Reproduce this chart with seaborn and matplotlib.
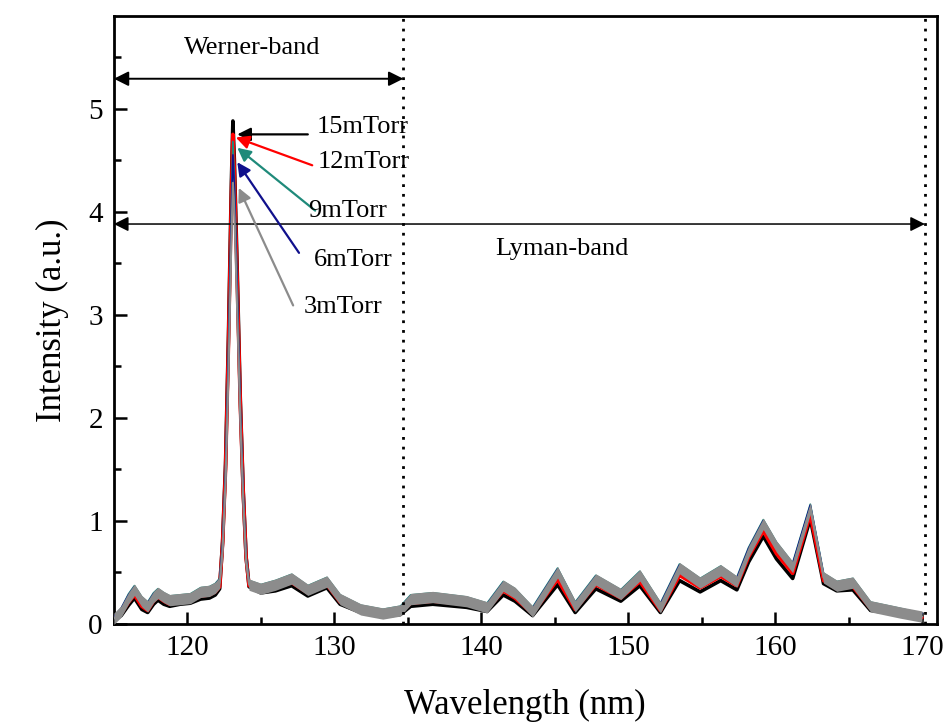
import matplotlib
matplotlib.use("Agg")
import matplotlib.pyplot as plt
import seaborn as sns
import pandas as pd
from matplotlib.ticker import MultipleLocator

# wavelength grid (nm)
wavelength = [115.0, 115.5, 116.0, 116.4, 116.9, 117.3, 117.7, 118.0, 118.4, 118.8,
              119.5, 120.2, 120.9, 121.5, 121.9, 122.2, 122.4, 122.6, 122.8, 123.0,
              123.1, 123.2, 123.4, 123.6, 123.8, 124.0, 124.2, 125.0, 126.0, 127.1,
              128.2, 129.5, 130.4, 131.8, 133.3, 134.5, 135.2, 136.7, 139.0, 140.4,
              141.5, 142.3, 143.5, 145.2, 146.4, 147.8, 149.5, 150.8, 152.2, 153.5,
              154.9, 156.3, 157.4, 158.2, 159.2, 160.1, 161.2, 162.4, 163.3, 164.2,
              165.3, 166.5, 168.5, 170.0]

i_15 = [0.03, 0.08, 0.18, 0.25, 0.14, 0.11, 0.19, 0.23, 0.19, 0.17,
        0.19, 0.20, 0.24, 0.25, 0.28, 0.34, 0.80, 1.55, 2.80, 4.30,
        4.88, 4.50, 3.40, 2.20, 1.30, 0.65, 0.36, 0.30, 0.32, 0.37,
        0.27, 0.35, 0.19, 0.11, 0.07, 0.09, 0.17, 0.19, 0.16, 0.12,
        0.28, 0.22, 0.08, 0.38, 0.11, 0.34, 0.22, 0.37, 0.11, 0.42,
        0.31, 0.42, 0.33, 0.60, 0.85, 0.63, 0.44, 1.02, 0.39, 0.32,
        0.33, 0.13, 0.09, 0.05]

i_12 = [0.04, 0.10, 0.21, 0.28, 0.17, 0.13, 0.22, 0.26, 0.22, 0.19,
        0.21, 0.22, 0.27, 0.28, 0.31, 0.36, 0.78, 1.50, 2.72, 4.18,
        4.75, 4.38, 3.30, 2.15, 1.28, 0.64, 0.37, 0.32, 0.35, 0.40,
        0.30, 0.38, 0.21, 0.12, 0.08, 0.11, 0.20, 0.22, 0.19, 0.14,
        0.32, 0.25, 0.10, 0.43, 0.14, 0.38, 0.25, 0.41, 0.13, 0.47,
        0.35, 0.46, 0.37, 0.65, 0.90, 0.68, 0.49, 1.06, 0.42, 0.34,
        0.36, 0.15, 0.10, 0.06]

i_9 = [0.07, 0.15, 0.29, 0.37, 0.26, 0.21, 0.30, 0.34, 0.30, 0.27,
       0.28, 0.29, 0.35, 0.36, 0.39, 0.44, 0.78, 1.48, 2.66, 4.10,
       4.68, 4.32, 3.25, 2.12, 1.27, 0.64, 0.42, 0.38, 0.42, 0.48,
       0.37, 0.45, 0.28, 0.18, 0.14, 0.17, 0.28, 0.30, 0.26, 0.20,
       0.41, 0.34, 0.16, 0.54, 0.21, 0.47, 0.33, 0.51, 0.20, 0.58,
       0.44, 0.56, 0.45, 0.74, 1.01, 0.79, 0.59, 1.16, 0.49, 0.41,
       0.44, 0.21, 0.15, 0.10]

i_6 = [0.07, 0.15, 0.28, 0.36, 0.25, 0.20, 0.29, 0.33, 0.29, 0.26,
       0.27, 0.28, 0.34, 0.35, 0.38, 0.43, 0.76, 1.44, 2.58, 3.98,
       4.55, 4.22, 3.18, 2.08, 1.25, 0.63, 0.41, 0.37, 0.41, 0.47,
       0.36, 0.44, 0.27, 0.17, 0.13, 0.16, 0.27, 0.29, 0.25, 0.19,
       0.40, 0.33, 0.15, 0.53, 0.20, 0.46, 0.32, 0.50, 0.19, 0.57,
       0.43, 0.55, 0.44, 0.73, 1.00, 0.78, 0.58, 1.15, 0.48, 0.40,
       0.43, 0.20, 0.14, 0.10]

i_3 = [0.05, 0.12, 0.25, 0.33, 0.22, 0.17, 0.26, 0.30, 0.26, 0.23,
       0.24, 0.25, 0.31, 0.32, 0.35, 0.40, 0.72, 1.38, 2.45, 3.75,
       4.28, 4.00, 3.00, 2.00, 1.20, 0.60, 0.38, 0.34, 0.38, 0.44,
       0.33, 0.41, 0.24, 0.14, 0.10, 0.13, 0.24, 0.26, 0.22, 0.16,
       0.37, 0.30, 0.12, 0.50, 0.17, 0.43, 0.29, 0.47, 0.16, 0.54,
       0.40, 0.52, 0.41, 0.70, 0.97, 0.75, 0.55, 1.12, 0.45, 0.37,
       0.40, 0.17, 0.11, 0.07]

labels = ["15mTorr", "12mTorr", "9mTorr", "6mTorr", "3mTorr"]
colors = ["black", "#ff0000", "#1f8a7a", "#10108c", "#8c8c8c"]
series = [i_15, i_12, i_9, i_6, i_3]

# annotation arrows: text position, arrow tail, arrow head
text_pos = [(128.8, 4.82), (128.9, 4.48), (128.2, 4.01), (128.6, 3.53), (127.9, 3.07)]
tails = [(128.2, 4.75), (128.5, 4.45), (128.7, 4.01), (127.6, 3.60), (127.2, 3.09)]
heads = [(123.4, 4.75), (123.3, 4.72), (123.4, 4.62), (123.4, 4.48), (123.5, 4.23)]

sns.set_style("ticks")
plt.rcParams['font.family'] = ['Liberation Serif', 'DejaVu Serif']
plt.rcParams.update({"text.color": "black", "axes.labelcolor": "black",
                     "xtick.color": "black", "ytick.color": "black",
                     "axes.edgecolor": "black"})

fig = plt.figure(figsize=(9.49, 7.22), dpi=100)
ax = fig.add_axes([0.120, 0.136, 0.867, 0.842])

rows = []
for lab, vals in zip(labels, series):
    for w, v in zip(wavelength, vals):
        rows.append({"wl": w, "I": v, "p": lab})
df = pd.DataFrame(rows)

# noisy gray band for 3mTorr
band = 0.055
ax.fill_between(wavelength, [v - band for v in i_3], [v + band for v in i_3],
                color="#8c8c8c", lw=0, zorder=3)

widths = {"15mTorr": 2.6, "12mTorr": 2.6, "9mTorr": 1.3, "6mTorr": 1.3, "3mTorr": 1.5}
zo = {"15mTorr": 1, "12mTorr": 2, "9mTorr": 2.5, "6mTorr": 2.6, "3mTorr": 3.5}
for lab, col in zip(labels, colors):
    sns.lineplot(data=df[df.p == lab], x="wl", y="I", color=col, lw=widths[lab],
                 ax=ax, zorder=zo[lab], legend=False)

# band boundaries
for xv in [134.7, 170.2]:
    ax.axvline(xv, color="black", lw=2, ls=(0, (1, 2.5)), zorder=4)

ax.annotate("", xy=(115.0, 5.29), xytext=(134.7, 5.29),
            arrowprops=dict(arrowstyle="<|-|>", color="black", lw=1.4,
                            mutation_scale=22, shrinkA=0, shrinkB=0))
ax.text(124.4, 5.59, "Werner-band", fontsize=19, ha="center", va="center")
ax.annotate("", xy=(115.0, 3.88), xytext=(170.2, 3.88),
            arrowprops=dict(arrowstyle="<|-|>", color="black", lw=1.1,
                            mutation_scale=22, shrinkA=0, shrinkB=0))
ax.text(145.5, 3.64, "Lyman-band", fontsize=19, ha="center", va="center")

for lab, col, tp, tl, hd in zip(labels, colors, text_pos, tails, heads):
    ax.annotate("", xy=hd, xytext=tl,
                arrowprops=dict(arrowstyle="-|>", color=col, lw=1.6,
                                mutation_scale=20, shrinkA=0, shrinkB=0), zorder=6)
    ax.text(tp[0], tp[1], lab, fontsize=19, ha="left", va="center", zorder=6)

ax.set_xlim(115, 171)
ax.set_ylim(0, 5.9)
ax.xaxis.set_major_locator(MultipleLocator(10))
ax.xaxis.set_minor_locator(MultipleLocator(5))
ax.yaxis.set_major_locator(MultipleLocator(1))
ax.yaxis.set_minor_locator(MultipleLocator(0.5))
ax.tick_params(which="both", direction="in", top=False, right=False, width=1.8)
ax.tick_params(which="major", length=9, labelsize=21, pad=8)
ax.tick_params(which="minor", length=5)
for s in ax.spines.values():
    s.set_linewidth(2)

ax.set_xlabel("Wavelength (nm)", fontsize=25, labelpad=20)
ax.set_ylabel("Intensity (a.u.)", fontsize=25, labelpad=14)

fig.savefig("out.png", dpi=100)
